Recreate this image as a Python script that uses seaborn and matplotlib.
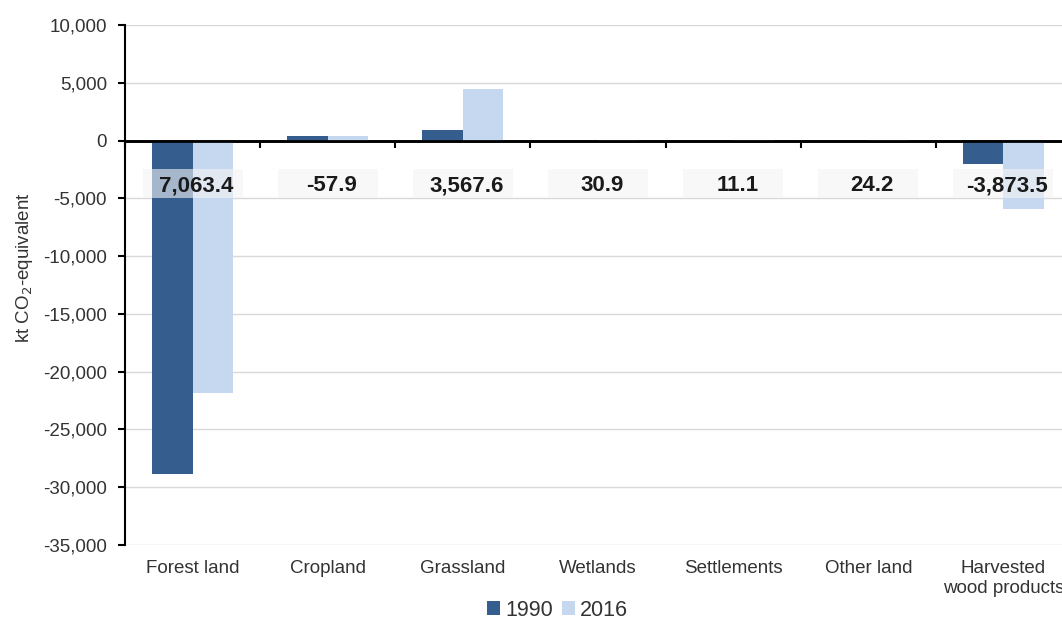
import numpy as np
import pandas as pd
import seaborn as sns
import matplotlib.pyplot as plt
from matplotlib.patches import Rectangle
from matplotlib.ticker import FuncFormatter

# data
categories = ["Forest land", "Cropland", "Grassland", "Wetlands", "Settlements",
              "Other land", "Harvested\nwood products"]
values_1990 = [-28870.0, 430.0, 930.0, 12.0, 5.0, 6.0, -2050.0]
values_2016 = [-21806.6, 372.1, 4497.6, 42.9, 16.1, 30.2, -5923.5]
change_labels = ["7,063.4", "-57.9", "3,567.6", "30.9", "11.1", "24.2", "-3,873.5"]
years = ["1990", "2016"]
colors = ["#355e8e", "#c6d8ef"]

df = pd.DataFrame({
    "category": categories * 2,
    "year": [years[0]] * len(categories) + [years[1]] * len(categories),
    "value": values_1990 + values_2016,
})

sns.set_style("white")
plt.rcParams["font.family"] = ["Liberation Sans", "DejaVu Sans"]

fig = plt.figure(figsize=(10.62, 6.24), dpi=100)
ax = fig.add_axes([125 / 1062, 1 - 545 / 624, 946 / 1062, 520 / 624])

sns.barplot(data=df, x="category", y="value", hue="year", palette=colors,
            width=0.6, saturation=1, ax=ax, legend=True, zorder=2,
            edgecolor="none", linewidth=0)

ax.set_xlim(-0.5, len(categories) - 0.5)
ax.set_ylim(-35000, 10000)
ax.set_yticks(np.arange(-35000, 10001, 5000))
ax.yaxis.set_major_formatter(FuncFormatter(lambda v, p: f"{int(v):,}"))
ax.grid(axis="y", color="#d9d9d9", lw=1, zorder=0)
ax.set_axisbelow(True)

for s in ["top", "right", "bottom"]:
    ax.spines[s].set_visible(False)
ax.spines["left"].set_color("black")
ax.spines["left"].set_linewidth(1.5)
ax.tick_params(axis="y", direction="out", length=5, width=1.5, color="black",
               labelsize=13.5, labelcolor="#333333", left=True, pad=8)
ax.tick_params(axis="x", length=0, pad=11, labelsize=13.5, labelcolor="#333333")
ax.set_xlabel("")
ax.set_ylabel("kt CO$_2$-equivalent", fontsize=13.5, color="#333333")
ax.yaxis.set_label_coords(-0.095, 0.533)

# zero line with boundary ticks
ax.axhline(0, color="black", lw=2, zorder=4)
sec = ax.secondary_xaxis(35000 / 45000)
sec.set_alignment("bottom")
sec.set_xticks(np.arange(-0.5, len(categories), 1))
sec.set_xticklabels([])
sec.tick_params(direction="out", length=5, width=1.5, color="black")
sec.spines["bottom"].set_linewidth(2)

# change labels in light boxes
for i, lab in enumerate(change_labels):
    ax.add_patch(Rectangle((i - 0.37, -5000), 0.74, 2550, facecolor="#f4f4f4",
                           alpha=0.6, edgecolor="none", zorder=5))
    ax.text(i + 0.03, -3900, lab, ha="center", va="center", fontsize=16,
            fontweight="bold", color="#1a1a1a", zorder=6)

ax.get_legend().remove()
handles, labels = ax.get_legend_handles_labels()
fig.legend(handles, labels, loc="center", bbox_to_anchor=(0.525, 0.022), ncol=2,
           frameon=False, fontsize=15.5, handlelength=0.6, handleheight=0.6,
           handletextpad=0.25, columnspacing=0.4, labelcolor="#333333")

fig.savefig("out.png", dpi=100)
